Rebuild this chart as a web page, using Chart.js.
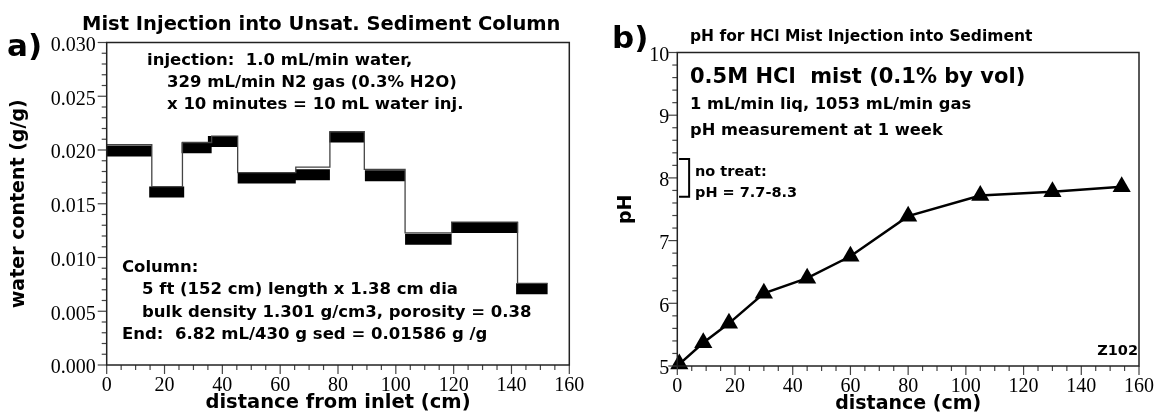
<!DOCTYPE html>
<html>
<head>
<meta charset="utf-8">
<script src="https://cdn.jsdelivr.net/npm/chart.js@4.4.1/dist/chart.umd.min.js"></script>
<style>
  html, body { margin: 0; padding: 0; background: #fff; }
  #wrap { position: relative; width: 1163px; height: 418px; overflow: hidden; }
  canvas { position: absolute; top: 0; }
</style>
</head>
<body>
<div id="wrap">
  <canvas id="left" width="600" height="418" style="left:0px"></canvas>
  <canvas id="right" width="563" height="418" style="left:600px"></canvas>
</div>
<script>
// ---------------- data: panel a) water content ----------------
const barStart = [0, 14.7, 25.9, 35.0, 45.3, 65.4, 77.0, 89.3, 103.2, 119.2, 141.6];
const barEnd   = [15.6, 26.8, 36.3, 45.3, 65.4, 77.2, 89.0, 103.2, 119.3, 142.3, 152.5];
const waterContent = [0.0199, 0.0161, 0.0202, 0.0208, 0.0174, 0.0177, 0.0212, 0.0176, 0.0117, 0.0128, 0.0071];
const stepEdges = [0, 15.6, 26.2, 36.3, 45.3, 65.4, 77.2, 89.1, 103.2, 119.3, 142.1, 152.5];
const stepTop   = [0.0205, 0.0166, 0.0207, 0.0213, 0.0179, 0.0184, 0.0217, 0.0182, 0.0123, 0.0133, 0.0076];
const leftYTicks = [0, 0.005, 0.010, 0.015, 0.020, 0.025, 0.030];
const xTicks = [0, 20, 40, 60, 80, 100, 120, 140, 160];

// ---------------- data: panel b) pH ----------------
const distance = [0.7, 9, 17.9, 30, 45, 60, 80, 105, 130, 154];
const pH       = [5.03, 5.37, 5.68, 6.16, 6.40, 6.75, 7.39, 7.72, 7.78, 7.86];
const bracketX = [0.6, 4.1, 4.1, 0.6];
const bracketY = [8.3, 8.3, 7.7, 7.7];
const rightYTicks = [5, 6, 7, 8, 9, 10];

const BOLD = "'DejaVu Sans', 'Verdana', sans-serif";
const SERIF = "'Liberation Serif', 'DejaVu Serif', serif";

const framePlugin = {
  id: 'frame',
  afterDraw(chart, args, o) {
    const { ctx, chartArea: a, scales: { x, y } } = chart;
    ctx.save();
    const line = (x1, y1, x2, y2) => { ctx.beginPath(); ctx.moveTo(x1, y1); ctx.lineTo(x2, y2); ctx.stroke(); };
    ctx.strokeStyle = '#444';
    ctx.lineWidth = 1.2;
    const ny = Math.round((y.max - y.min) / o.yMinor);
    for (let i = 0; i <= ny; i++) {
      const p = y.getPixelForValue(y.min + i * o.yMinor);
      const L = (i % o.yRatio === 0) ? o.majorLen : o.minorLen;
      line(a.left - L, p, a.left, p);
    }
    const nx = Math.round((x.max - x.min) / o.xMinor);
    for (let i = 0; i <= nx; i++) {
      const p = x.getPixelForValue(x.min + i * o.xMinor);
      const L = (i % o.xRatio === 0) ? o.majorLen : o.minorLen;
      line(p, a.bottom, p, a.bottom + L);
    }
    ctx.strokeStyle = '#222';
    ctx.lineWidth = 1.5;
    ctx.strokeRect(a.left, a.top, a.right - a.left, a.bottom - a.top);
    ctx.fillStyle = '#000';
    ctx.textBaseline = 'middle';
    for (const t of o.texts) {
      ctx.font = t.font;
      ctx.textAlign = t.align || 'left';
      ctx.fillText(t.text, t.x, t.y);
    }
    ctx.restore();
  }
};

// ---------- left chart ----------
const thinStep = stepTop.map((v, i) => ({ x: stepEdges[i], y: v }));
thinStep.push({ x: stepEdges[stepEdges.length - 1], y: stepTop[stepTop.length - 1] });
const thickBars = [];
waterContent.forEach((v, i) => {
  thickBars.push({ x: barStart[i], y: v }, { x: barEnd[i], y: v }, { x: barEnd[i], y: null });
});

const ann = (s) => 'bold ' + s + 'px ' + BOLD;

new Chart(document.getElementById('left'), {
  type: 'line',
  data: {
    datasets: [
      { data: thinStep, stepped: 'before', borderColor: '#444', borderWidth: 1.3, pointRadius: 0, fill: false },
      { data: thickBars, borderColor: '#000', borderWidth: 11, borderCapStyle: 'butt', pointRadius: 0, spanGaps: false, fill: false }
    ]
  },
  options: {
    responsive: false, animation: false, events: [],
    layout: { padding: { left: 0, top: 42.5, right: 30.7, bottom: 0 } },
    plugins: {
      legend: { display: false }, tooltip: { enabled: false },
      frame: {
        yMinor: 0.001, yRatio: 5, xMinor: 5, xRatio: 4, majorLen: 9, minorLen: 5,
        texts: [
          { text: 'Mist Injection into Unsat. Sediment Column', x: 82, y: 25, font: ann(19.5) },
          { text: 'a)', x: 7, y: 48, font: ann(31) },
          { text: 'injection:  1.0 mL/min water,', x: 147, y: 61, font: ann(16.5) },
          { text: '329 mL/min N2 gas (0.3% H2O)', x: 167, y: 83, font: ann(16.5) },
          { text: 'x 10 minutes = 10 mL water inj.', x: 167, y: 105, font: ann(16.5) },
          { text: 'Column:', x: 122, y: 268, font: ann(16.5) },
          { text: '5 ft (152 cm) length x 1.38 cm dia', x: 142, y: 290, font: ann(16.5) },
          { text: 'bulk density 1.301 g/cm3, porosity = 0.38', x: 142, y: 313, font: ann(16.5) },
          { text: 'End:  6.82 mL/430 g sed = 0.01586 g /g', x: 122, y: 335, font: ann(16.5) }
        ]
      }
    },
    scales: {
      x: {
        type: 'linear', min: 0, max: 160,
        afterBuildTicks: (s) => { s.ticks = xTicks.map(v => ({ value: v })); },
        afterFit: (s) => { s.height = 53; },
        grid: { display: false, drawTicks: false }, border: { display: false },
        ticks: { font: { family: SERIF, size: 20 }, color: '#000', padding: 9, maxRotation: 0, autoSkip: false },
        title: { display: true, text: 'distance from inlet (cm)', font: { family: BOLD, size: 19.5, weight: 'bold' }, color: '#000', padding: { top: 0, bottom: 3 } }
      },
      y: {
        type: 'linear', min: 0, max: 0.03,
        afterBuildTicks: (s) => { s.ticks = leftYTicks.map(v => ({ value: v })); },
        afterFit: (s) => { s.width = 106.7; },
        grid: { display: false, drawTicks: false }, border: { display: false },
        ticks: { font: { family: SERIF, size: 20 }, color: '#000', padding: 11, labelOffset: 3, callback: (v) => Number(v).toFixed(3) },
        title: { display: true, text: 'water content (g/g)', font: { family: BOLD, size: 19, weight: 'bold' }, color: '#000', padding: 8 }
      }
    }
  },
  plugins: [framePlugin]
});

// ---------- right chart ----------
const phPoints = distance.map((d, i) => ({ x: d, y: pH[i] }));
const bracket = bracketX.map((d, i) => ({ x: d, y: bracketY[i] }));
const OX = 600;

new Chart(document.getElementById('right'), {
  type: 'line',
  data: {
    datasets: [
      { data: phPoints, borderColor: '#000', backgroundColor: '#000', borderWidth: 2.5, pointStyle: 'triangle', pointRadius: 10.5, pointBorderWidth: 0, clip: false, fill: false },
      { data: bracket, borderColor: '#000', borderWidth: 2, pointRadius: 0, fill: false }
    ]
  },
  options: {
    responsive: false, animation: false, events: [],
    layout: { padding: { left: 0, top: 52.5, right: 19, bottom: 0 } },
    plugins: {
      legend: { display: false }, tooltip: { enabled: false },
      frame: {
        yMinor: 0.2, yRatio: 5, xMinor: 5, xRatio: 4, majorLen: 9, minorLen: 5,
        texts: [
          { text: 'pH for HCl Mist Injection into Sediment', x: 690 - OX, y: 37, font: ann(15.5) },
          { text: 'b)', x: 612 - OX, y: 40, font: ann(31) },
          { text: '0.5M HCl  mist (0.1% by vol)', x: 690 - OX, y: 78, font: ann(21) },
          { text: '1 mL/min liq, 1053 mL/min gas', x: 690 - OX, y: 105, font: ann(16.3) },
          { text: 'pH measurement at 1 week', x: 690 - OX, y: 131, font: ann(16.3) },
          { text: 'no treat:', x: 695 - OX, y: 172, font: ann(14.5) },
          { text: 'pH = 7.7-8.3', x: 695 - OX, y: 193, font: ann(14.5) },
          { text: 'Z102', x: 1138 - OX, y: 351, font: ann(14.5), align: 'right' }
        ]
      }
    },
    scales: {
      x: {
        type: 'linear', min: 0, max: 160,
        afterBuildTicks: (s) => { s.ticks = xTicks.map(v => ({ value: v })); },
        afterFit: (s) => { s.height = 52; },
        grid: { display: false, drawTicks: false }, border: { display: false },
        ticks: { font: { family: SERIF, size: 20 }, color: '#000', padding: 9, maxRotation: 0, autoSkip: false },
        title: { display: true, text: 'distance (cm)', font: { family: BOLD, size: 19, weight: 'bold' }, color: '#000', padding: { top: 0, bottom: 3 } }
      },
      y: {
        type: 'linear', min: 5, max: 10,
        afterBuildTicks: (s) => { s.ticks = rightYTicks.map(v => ({ value: v })); },
        afterFit: (s) => { s.width = 77.3; },
        grid: { display: false, drawTicks: false }, border: { display: false },
        ticks: { font: { family: SERIF, size: 20 }, color: '#000', padding: 8, labelOffset: 3 },
        title: { display: true, text: 'pH', font: { family: BOLD, size: 19, weight: 'bold' }, color: '#000', padding: 15 }
      }
    }
  },
  plugins: [framePlugin]
});
</script>
</body>
</html>
